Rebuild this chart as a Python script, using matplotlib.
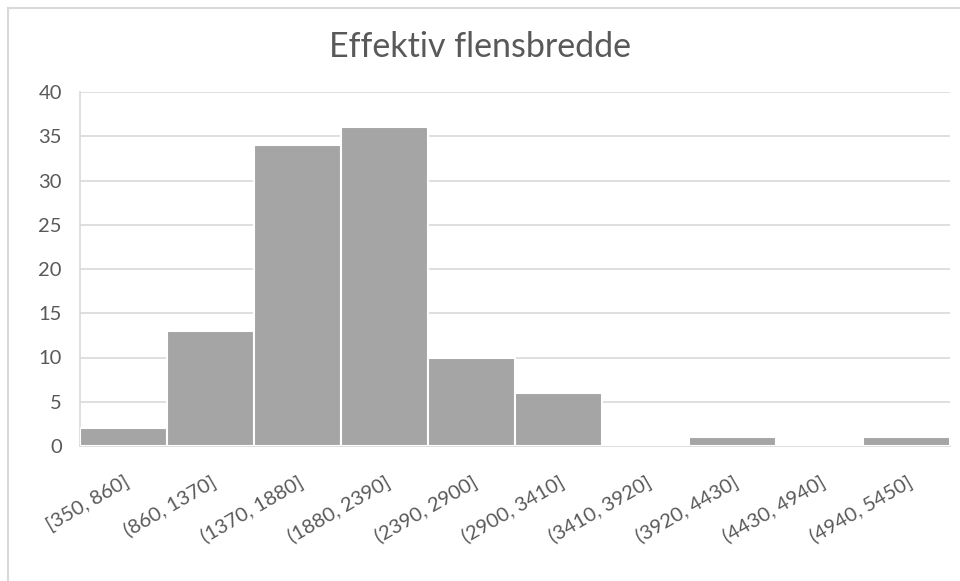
import matplotlib.pyplot as plt
from matplotlib.lines import Line2D

# Histogram bins and counts
bins = ['[350, 860]', '(860, 1370]', '(1370, 1880]', '(1880, 2390]', '(2390, 2900]',
        '(2900, 3410]', '(3410, 3920]', '(3920, 4430]', '(4430, 4940]', '(4940, 5450]']
counts = [2, 13, 34, 36, 10, 6, 0, 1, 0, 1]

text_color = '#595959'
plt.rcParams['font.family'] = ['Lato', 'DejaVu Sans']

fig = plt.figure(figsize=(9.6, 5.81), dpi=100)
ax = fig.add_axes([80 / 960, 1 - 446 / 581, 870 / 960, 354 / 581])

x = range(len(bins))
ax.bar(x, counts, width=1.0, color='#a5a5a5', edgecolor='white', linewidth=1.5, zorder=3)

ax.set_xlim(-0.5, len(bins) - 0.5)
ax.set_ylim(0, 40)
ax.set_yticks(range(0, 41, 5))
ax.yaxis.grid(True, color='#d9d9d9', linewidth=1.2, zorder=0)
ax.set_xticks(list(x))
ax.set_xticklabels(bins, rotation=30, ha='right', rotation_mode='anchor')
ax.tick_params(axis='both', length=0, labelsize=14.5, colors=text_color)
ax.tick_params(axis='x', pad=19)
ax.tick_params(axis='y', pad=13)
for side in ['top', 'right']:
    ax.spines[side].set_visible(False)
ax.spines['left'].set_color('#d9d9d9')
ax.spines['bottom'].set_color('#d9d9d9')
ax.spines['left'].set_linewidth(1.2)
ax.spines['bottom'].set_linewidth(1.2)

fig.text(0.5, 1 - 47 / 581, 'Effektiv flensbredde', ha='center', va='center',
         fontsize=24.5, color=text_color)

# chart frame along the top and left edges
fig.add_artist(Line2D([7.5 / 960, 1], [1 - 7.5 / 581, 1 - 7.5 / 581], color='#d9d9d9', linewidth=1.5))
fig.add_artist(Line2D([7.5 / 960, 7.5 / 960], [0, 1 - 7.5 / 581], color='#d9d9d9', linewidth=1.5))

fig.savefig('out.png', dpi=100)
